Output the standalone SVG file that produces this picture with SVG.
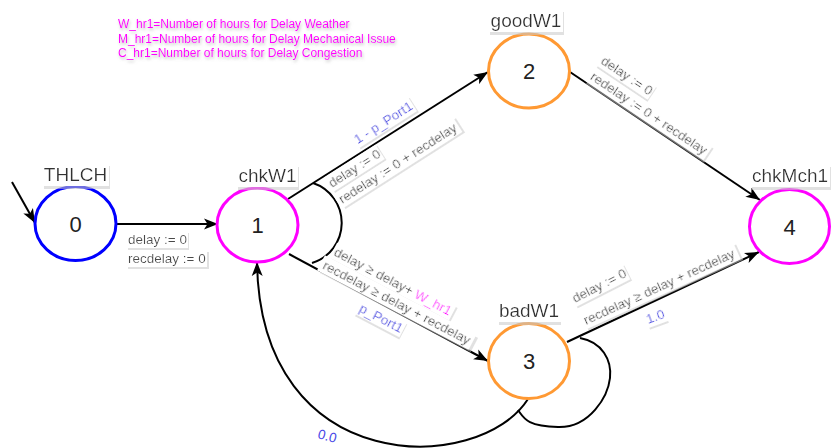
<svg xmlns="http://www.w3.org/2000/svg" width="831" height="448" viewBox="0 0 831 448">
  <defs>
    <style>
      .node { fill: #fff; stroke-width: 3; }
      .num { font: 22px "Liberation Sans", Arial, sans-serif; fill: #222; text-anchor: middle; }
      .name { font: 19px "Liberation Sans", Arial, sans-serif; fill: #333; text-anchor: middle; }
      .lbl { font: 13.5px "Liberation Sans", Arial, sans-serif; fill: #4a4a4a; }
      .prob { fill: #4646e6; }
      .hr { fill: #f0f; }
      .edge { fill: none; stroke: #000; stroke-width: 2; }
      .legend { font: 12px "Liberation Sans", Arial, sans-serif; fill: #f0f; }
    </style>
    <marker id="arrow" markerUnits="userSpaceOnUse" markerWidth="14" markerHeight="12" refX="14" refY="6" orient="auto">
      <path d="M0,0.5 L14,6 L0,11.5 L3.5,6 Z" fill="#000"/>
    </marker>
    <!-- white label box with a light grey shadow to the lower right -->
    <filter id="box" primitiveUnits="objectBoundingBox" x="-0.05" y="-0.1" width="1.12" height="1.35">
      <feFlood flood-color="#c8c8c8" flood-opacity="0.55" x="0.005" y="0.12" width="1.025" height="1.03" result="sh"/>
      <feFlood flood-color="#fff" x="-0.015" y="-0.02" width="1.03" height="1.06" result="bg"/>
      <feMerge>
        <feMergeNode in="sh"/>
        <feMergeNode in="bg"/>
        <feMergeNode in="SourceGraphic"/>
      </feMerge>
    </filter>
    <filter id="glow" x="-0.1" y="-0.5" width="1.2" height="2">
      <feDropShadow dx="1" dy="2" stdDeviation="1.5" flood-color="#888" flood-opacity="0.55"/>
    </filter>
  </defs>

  <rect width="831" height="448" fill="#fff"/>

  <!-- legend -->
  <g id="legend" class="legend" filter="url(#glow)">
    <text x="118" y="28">W_hr1=Number of hours for Delay Weather</text>
    <text x="118" y="42.5">M_hr1=Number of hours for Delay Mechanical Issue</text>
    <text x="118" y="57">C_hr1=Number of hours for Delay Congestion</text>
  </g>

  <!-- transitions -->
  <g id="connectors">
    <path class="edge" d="M12,182 L35,223" marker-end="url(#arrow)"/>
    <path class="edge" d="M116,224 L218,224" marker-end="url(#arrow)"/>
    <path class="edge" d="M288,199 L488,72" marker-end="url(#arrow)"/>
    <path class="edge" d="M289,254 L488,361" marker-end="url(#arrow)"/>
    <path class="edge" d="M313,183 A42,42 0 0,1 312,263"/>
    <path class="edge" d="M570,72 L760,200" marker-end="url(#arrow)"/>
    <path class="edge" d="M567,342 L759,252" marker-end="url(#arrow)"/>
    <path class="edge" d="M528,399 C480,475 260,480 257,262" marker-end="url(#arrow)"/>
    <path class="edge" d="M580,338 C602,342 612,360 610,378 S590,428 558,427 S524,418 518,410"/>
  </g>

  <!-- transition labels -->
  <g id="edge-labels" class="lbl">
    <g id="lbl-0-1">
      <text x="128" y="244" filter="url(#box)">delay := 0</text>
      <text x="128" y="263" filter="url(#box)">recdelay := 0</text>
    </g>
    <g id="lbl-1-2" transform="translate(332,188) rotate(-32.6)">
      <text x="45" y="-23" class="prob" filter="url(#box)">1 - p_Port1</text>
      <text x="0" y="0" filter="url(#box)">delay := 0</text>
      <text x="0" y="19" filter="url(#box)">redelay := 0 + recdelay</text>
    </g>
    <g id="lbl-2-4" transform="translate(600,63) rotate(33.8)">
      <text x="0" y="0" filter="url(#box)">delay := 0</text>
      <text x="0" y="19" filter="url(#box)">redelay := 0 + recdelay</text>
    </g>
    <g id="lbl-1-3" transform="translate(333,255) rotate(27.7)">
      <text x="0" y="0" filter="url(#box)">delay ≥ delay+ <tspan class="hr">W_hr1</tspan></text>
      <text x="-3.7" y="16.6" filter="url(#box)">recdelay ≥ delay + recdelay</text>
      <text x="48.6" y="37.9" class="prob" filter="url(#box)">p_Port1</text>
    </g>
    <g id="lbl-3-4">
      <text transform="translate(575,303) rotate(-27)" filter="url(#box)">delay := 0</text>
      <text transform="translate(586,325) rotate(-24.5)" filter="url(#box)">recdelay ≥ delay + recdelay</text>
      <text transform="translate(648,324) rotate(-20)" class="prob" filter="url(#box)">1.0</text>
    </g>
    <g id="lbl-3-1">
      <text transform="translate(317,438) rotate(15)" class="prob">0.0</text>
    </g>
  </g>

  <!-- states -->
  <g id="THLCH">
    <ellipse class="node" cx="75.5" cy="223.5" rx="40.5" ry="37" stroke="#0000ff"/>
    <text class="num" x="75.5" y="231.5">0</text>
    <text class="name" x="75.5" y="181" filter="url(#box)">THLCH</text>
  </g>
  <g id="chkW1">
    <ellipse class="node" cx="257.5" cy="225" rx="40.5" ry="37" stroke="#ff00ff"/>
    <text class="num" x="257.5" y="233">1</text>
    <text class="name" x="267.5" y="182" filter="url(#box)">chkW1</text>
  </g>
  <g id="goodW1">
    <ellipse class="node" cx="529" cy="71" rx="40.5" ry="37" stroke="#ff9933"/>
    <text class="num" x="529" y="79">2</text>
    <text class="name" x="526" y="27" filter="url(#box)">goodW1</text>
  </g>
  <g id="badW1">
    <ellipse class="node" cx="529" cy="361" rx="40.5" ry="37.5" stroke="#ff9933"/>
    <text class="num" x="529" y="369">3</text>
    <text class="name" x="529" y="317" filter="url(#box)">badW1</text>
  </g>
  <g id="chkMch1">
    <ellipse class="node" cx="789.5" cy="226.5" rx="40" ry="37" stroke="#ff00ff"/>
    <text class="num" x="789.5" y="234.5">4</text>
    <text class="name" x="790" y="182" filter="url(#box)">chkMch1</text>
  </g>
</svg>
